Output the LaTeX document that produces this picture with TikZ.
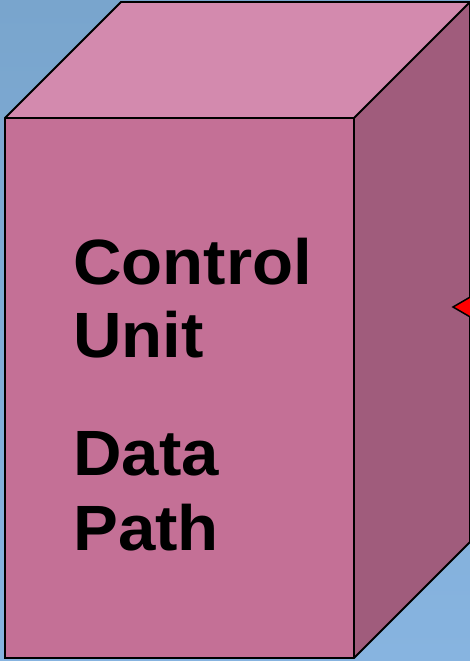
\documentclass[tikz,border=0pt]{standalone}
\usepackage{fontspec}
\setmainfont{Liberation Sans}
\newfontfamily\lblfont[FakeStretch=1.05]{Liberation Sans}
\begin{document}
\begin{tikzpicture}[x=1pt,y=-1pt,
  face/.style={draw=black,line width=1.8pt,line join=miter},
  label/.style={anchor=base west,inner sep=0pt,font=\lblfont\fontsize{64}{73}\bfseries\selectfont}]
\definecolor{bgtop}{HTML}{79A5CD}
\definecolor{bgbot}{HTML}{87B4E0}
\definecolor{topface}{HTML}{D38AAE}
\definecolor{frontface}{HTML}{C47096}
\definecolor{sideface}{HTML}{A05C7C}
\useasboundingbox (0,0) rectangle (470,661);
\clip (0,0) rectangle (470,661);
\shade[top color=bgtop,bottom color=bgbot] (0,0) rectangle (470,661);
% box corners
\coordinate (ftl) at (5,118);
\coordinate (ftr) at (354,118);
\coordinate (fbr) at (354,658);
\coordinate (fbl) at (5,658);
\coordinate (btl) at (121,2);
\coordinate (btr) at (470,2);
\coordinate (bbr) at (470,542);
% faces
\fill[topface] (ftl) -- (btl) -- (btr) -- (ftr) -- cycle;
\fill[sideface] (ftr) -- (btr) -- (bbr) -- (fbr) -- cycle;
\fill[frontface] (ftl) -- (ftr) -- (fbr) -- (fbl) -- cycle;
\draw[face] (ftl) -- (btl) -- (btr) -- (bbr) -- (fbr) -- (fbl) -- cycle;
\draw[face] (ftl) -- (ftr) -- (fbr);
\draw[face] (ftr) -- (btr);
% pointer entering from the right
\coordinate (ptip) at (453,307);
\coordinate (pup) at (472,296);
\coordinate (pdn) at (472,318);
\fill[red] (pup) -- (ptip) -- (pdn) -- cycle;
\draw[line width=1.5pt] (pup) -- (ptip) -- (pdn);
% labels
\node[label] (l1) at (73,284) {Control};
\node[label] (l2) at (73,357) {Unit};
\node[label] (l3) at (73,475) {Data};
\node[label] (l4) at (73,550) {Path};
\end{tikzpicture}
\end{document}
